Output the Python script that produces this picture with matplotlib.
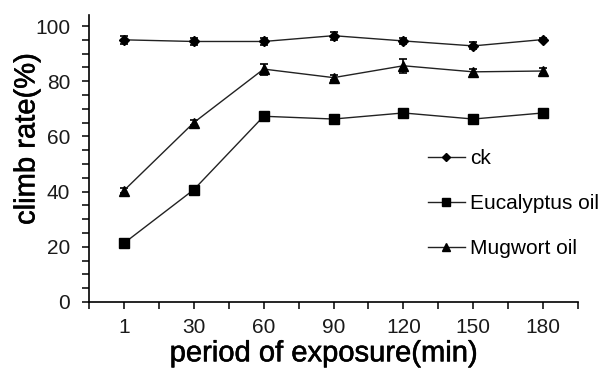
import numpy as np
import matplotlib
matplotlib.use("Agg")
import matplotlib.pyplot as plt
import matplotlib.patheffects as pe
from matplotlib.ticker import MultipleLocator, FixedLocator

plt.rcParams['font.family'] = ['Liberation Sans', 'DejaVu Sans']

periods = ['1', '30', '60', '90', '120', '150', '180']

ck = [95.0, 94.4, 94.4, 96.5, 94.6, 92.8, 95.1]
ck_err = [1.5, 1.2, 1.2, 1.5, 1.2, 1.3, 0.5]

eucalyptus = [21.3, 40.7, 67.3, 66.3, 68.5, 66.3, 68.5]
eucalyptus_err = [0.6, 0.6, 0.6, 0.6, 0.6, 0.6, 0.6]

mugwort = [40.4, 65.0, 84.4, 81.3, 85.6, 83.4, 83.7]
mugwort_err = [1.0, 1.0, 2.0, 1.0, 2.5, 1.0, 1.0]

x = np.arange(len(periods))

fig = plt.figure(figsize=(6.11, 3.71), dpi=100)
ax = fig.add_axes([0.1457, 0.186, 0.8003, 0.7736])

line_kw = dict(color='#222222', lw=1.0, ecolor='black', elinewidth=1.2,
               capsize=3, capthick=1.2, markeredgecolor='black', markerfacecolor='black')
c1 = ax.errorbar(x, ck, yerr=ck_err, marker='D', ms=5.5, **line_kw)
c2 = ax.errorbar(x, eucalyptus, yerr=eucalyptus_err, marker='s', ms=7.5, **line_kw)
c3 = ax.errorbar(x, mugwort, yerr=mugwort_err, marker='^', ms=7, **line_kw)

ax.set_xlim(-0.5, len(periods) - 0.5)
ax.set_ylim(0, 104)
ax.set_xticks(x)
ax.set_xticklabels(periods)
ax.xaxis.set_minor_locator(FixedLocator(np.arange(-0.5, len(periods), 1.0)))
ax.yaxis.set_major_locator(FixedLocator([0, 20, 40, 60, 80, 100]))
ax.yaxis.set_minor_locator(MultipleLocator(5))

for s in ['top', 'right']:
    ax.spines[s].set_visible(False)
for s in ['left', 'bottom']:
    ax.spines[s].set_linewidth(1.2)
    ax.spines[s].set_color('black')

ax.tick_params(axis='both', which='both', direction='out', length=5, width=1.1,
               labelsize=15, colors='black', labelcolor='#1a1a1a')
ax.tick_params(axis='x', pad=6.5)
ax.tick_params(axis='y', pad=8.5)

# axis titles in the reference are a bit heavier than regular weight
heavy = [pe.withStroke(linewidth=0.4, foreground='black')]
ax.set_xlabel('period of exposure(min)', fontsize=21, path_effects=heavy)
ax.xaxis.set_label_coords(0.48, -0.13)
ax.set_ylabel('climb rate(%)', fontsize=21, va='center', path_effects=heavy)
ax.yaxis.set_label_coords(-0.128, 0.568)

ax.legend(handles=[c1[0], c2[0], c3[0]], labels=['ck', 'Eucalyptus oil', 'Mugwort oil'],
          loc='upper left', bbox_to_anchor=(0.693, 0.533), frameon=False,
          fontsize=15, handlelength=1.78, handletextpad=0.25, labelspacing=1.25,
          borderpad=0, borderaxespad=0, numpoints=1, markerscale=0.75)

fig.savefig('out.png', dpi=100)
